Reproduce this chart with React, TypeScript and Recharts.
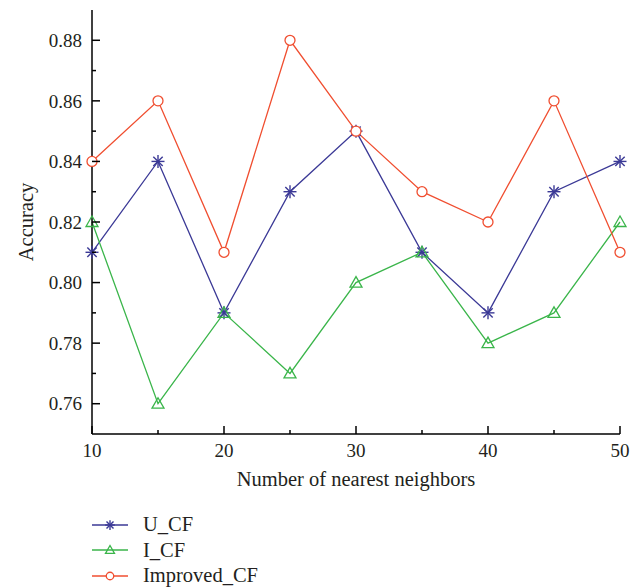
import { LineChart, Line, XAxis, YAxis } from 'recharts';

const neighbors = [10, 15, 20, 25, 30, 35, 40, 45, 50];
const uCF = [0.81, 0.84, 0.79, 0.83, 0.85, 0.81, 0.79, 0.83, 0.84];
const iCF = [0.82, 0.76, 0.79, 0.77, 0.8, 0.81, 0.78, 0.79, 0.82];
const improvedCF = [0.84, 0.86, 0.81, 0.88, 0.85, 0.83, 0.82, 0.86, 0.81];

const xTicks = [10, 15, 20, 25, 30, 35, 40, 45, 50];
const yTicks = [0.76, 0.77, 0.78, 0.79, 0.8, 0.81, 0.82, 0.83, 0.84, 0.85, 0.86, 0.87, 0.88];

const FONT = 'Liberation Serif, DejaVu Serif, serif';
const TEXT = '#231f20';

type Shape = 'star' | 'triangle' | 'circle';

const series: { key: string; name: string; color: string; shape: Shape }[] = [
    { key: 'u', name: 'U_CF', color: '#3b3996', shape: 'star' },
    { key: 'i', name: 'I_CF', color: '#3ab54a', shape: 'triangle' },
    { key: 'imp', name: 'Improved_CF', color: '#f04e30', shape: 'circle' },
];

const data = neighbors.map((n, idx) => ({
    n,
    u: uCF[idx],
    i: iCF[idx],
    imp: improvedCF[idx],
}));

const Marker = ({ cx, cy, color, shape, k = 1 }: { cx: number; cy: number; color: string; shape: Shape; k?: number }) => {
    if (shape === 'circle') {
        return <circle cx={cx} cy={cy} r={5 * k} fill="#fff" stroke={color} strokeWidth={1.3} />;
    }
    if (shape === 'triangle') {
        const s = 6 * k;
        return (
            <polygon
                points={`${cx},${cy - s} ${cx - s},${cy + s * 0.75} ${cx + s},${cy + s * 0.75}`}
                fill="none"
                stroke={color}
                strokeWidth={1.3}
            />
        );
    }
    const r = 6.5 * k;
    const d = r * 0.72;
    return (
        <g stroke={color} strokeWidth={1.4}>
            <line x1={cx - r} y1={cy} x2={cx + r} y2={cy} />
            <line x1={cx} y1={cy - r} x2={cx} y2={cy + r} />
            <line x1={cx - d} y1={cy - d} x2={cx + d} y2={cy + d} />
            <line x1={cx - d} y1={cy + d} x2={cx + d} y2={cy - d} />
        </g>
    );
};

const XTick = (props: any) => {
    const { x, y, payload } = props;
    const major = payload.value % 10 === 0;
    return (
        <g>
            <line x1={x} x2={x} y1={y} y2={y - (major ? 8 : 4)} stroke="#000" strokeWidth={1.5} />
            {major && (
                <text x={x} y={y + 23} textAnchor="middle" fontSize={19} fontFamily={FONT} fill={TEXT}>
                    {payload.value}
                </text>
            )}
        </g>
    );
};

const YTick = (props: any) => {
    const { x, y, payload } = props;
    const major = Math.round(payload.value * 100) % 2 === 0;
    return (
        <g>
            <line x1={x} x2={x + (major ? 8 : 4)} y1={y} y2={y} stroke="#000" strokeWidth={1.5} />
            {major && (
                <text x={x - 10} y={y} dy="0.35em" textAnchor="end" fontSize={19} fontFamily={FONT} fill={TEXT}>
                    {payload.value.toFixed(2)}
                </text>
            )}
        </g>
    );
};

export default function App() {
    return (
        <div style={{ position: 'absolute', left: 0, top: 0, width: 643, height: 587, background: '#fff' }}>
            <LineChart width={643} height={587} data={data} margin={{ top: 10, right: 23, left: 0, bottom: 93 }}>
                <XAxis
                    dataKey="n"
                    type="number"
                    domain={[10, 50]}
                    ticks={xTicks}
                    interval={0}
                    height={60}
                    tickSize={0}
                    tickMargin={0}
                    tickLine={false}
                    tick={<XTick />}
                    axisLine={{ stroke: '#000', strokeWidth: 1.5 }}
                    label={(p: any) => {
                        const vb = p.viewBox;
                        return (
                            <text x={vb.x + vb.width / 2} y={vb.y + 52} textAnchor="middle" fontSize={20.5} fontFamily={FONT} fill={TEXT}>
                                Number of nearest neighbors
                            </text>
                        );
                    }}
                />
                <XAxis
                    xAxisId="top"
                    orientation="top"
                    dataKey="n"
                    type="number"
                    domain={[10, 50]}
                    height={0}
                    tick={false}
                    tickLine={false}
                    axisLine={{ stroke: '#000', strokeWidth: 1.5 }}
                />
                <YAxis
                    type="number"
                    domain={[0.75, 0.89]}
                    ticks={yTicks}
                    interval={0}
                    width={92}
                    tickSize={0}
                    tickMargin={0}
                    tickLine={false}
                    tick={<YTick />}
                    axisLine={{ stroke: '#000', strokeWidth: 1.5 }}
                    label={(p: any) => {
                        const vb = p.viewBox;
                        const cy = vb.y + vb.height / 2;
                        return (
                            <text x={26} y={cy} transform={`rotate(-90 26 ${cy})`} textAnchor="middle" dy="0.35em" fontSize={20.5} fontFamily={FONT} fill={TEXT}>
                                Accuracy
                            </text>
                        );
                    }}
                />
                <YAxis
                    yAxisId="right"
                    orientation="right"
                    domain={[0.75, 0.89]}
                    width={0}
                    tick={false}
                    tickLine={false}
                    axisLine={{ stroke: '#000', strokeWidth: 1.5 }}
                />
                {series.map((s) => (
                    <Line
                        key={s.key}
                        dataKey={s.key}
                        name={s.name}
                        type="linear"
                        stroke={s.color}
                        strokeWidth={1.3}
                        isAnimationActive={false}
                        dot={(p: any) => <Marker key={`${s.key}-${p.index}`} cx={p.cx} cy={p.cy} color={s.color} shape={s.shape} />}
                        activeDot={false}
                    />
                ))}
            </LineChart>
            <div style={{ position: 'absolute', left: 92, top: 512 }}>
                {series.map((s) => (
                    <div key={s.key} style={{ display: 'flex', alignItems: 'center', height: 25.5 }}>
                        <svg width={36} height={16} style={{ overflow: 'visible' }}>
                            <line x1={0} x2={36} y1={8} y2={8} stroke={s.color} strokeWidth={1.3} />
                            <Marker cx={18} cy={8} color={s.color} shape={s.shape} k={0.75} />
                        </svg>
                        <span style={{ marginLeft: 15, fontFamily: FONT, fontSize: 20.5, color: TEXT }}>{s.name}</span>
                    </div>
                ))}
            </div>
        </div>
    );
}
